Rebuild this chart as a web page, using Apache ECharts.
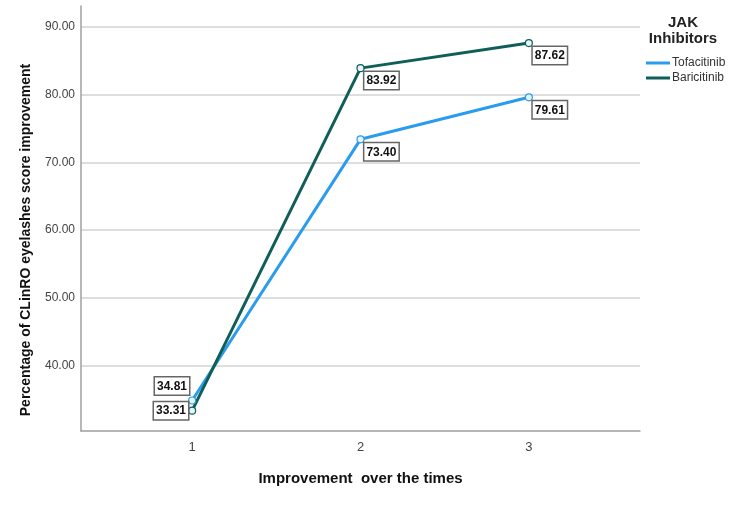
<!DOCTYPE html>
<html>
<head>
<meta charset="utf-8">
<script src="https://cdn.jsdelivr.net/npm/echarts@6/dist/echarts.min.js"></script>
<style>
  html, body { margin: 0; padding: 0; background: #fff; }
  #main { width: 750px; height: 506px; }
</style>
</head>
<body>
<div id="main"></div>
<script>
  // data
  var timePoints = [1, 2, 3];
  var tofacitinib = [34.81, 73.40, 79.61];
  var baricitinib = [33.31, 83.92, 87.62];
  var yTicks = [40, 50, 60, 70, 80, 90];
  var seriesNames = ['Tofacitinib', 'Baricitinib'];
  var seriesColors = ['#2b9cec', '#0f5f58'];

  var font = '"Liberation Sans", Arial, sans-serif';

  function pairs(vals) {
    return vals.map(function (v, i) { return [timePoints[i], v]; });
  }

  function boxLabel(first) {
    // first point sits to the left, the others below-right
    return {
      show: true,
      position: first ? 'left' : [8, 8],
      distance: 0,
      align: first ? 'right' : 'left',
      verticalAlign: first ? 'middle' : 'top',
      formatter: function (p) { return p.value[1].toFixed(2); },
      fontFamily: font,
      fontSize: 12,
      fontWeight: 'bold',
      color: '#111',
      backgroundColor: '#fff',
      borderColor: '#666',
      borderWidth: 1.5,
      padding: [3, 2, 2, 2]
    };
  }

  function makeSeries(name, vals, color, firstShift) {
    var d = pairs(vals).map(function (pt, i) {
      var lab = boxLabel(i === 0);
      if (i === 0 && firstShift) {
        lab.position = [1, -2];
        lab.align = 'right';
        lab.verticalAlign = 'bottom';
      }
      return { value: pt, label: lab };
    });
    return {
      name: name,
      type: 'line',
      data: d,
      symbol: 'circle',
      symbolSize: 7,
      showAllSymbol: true,
      itemStyle: { color: '#e8f3f8', borderColor: color, borderWidth: 1.2 },
      lineStyle: { color: color, width: 3 },
      emphasis: { disabled: true },
      animation: false
    };
  }

  var myChart = echarts.init(document.getElementById('main'));

  var option = {
    backgroundColor: '#fff',
    grid: { left: 81, right: 110, top: 6, bottom: 75 },
    color: seriesColors,
    legend: {
      orient: 'vertical',
      left: 641,
      top: 52,
      icon: 'rect',
      itemWidth: 24,
      itemHeight: 3,
      itemGap: 3,
      data: seriesNames.map(function (n, i) {
        return { name: n, itemStyle: { color: seriesColors[i], borderWidth: 0 } };
      }),
      textStyle: { fontFamily: font, fontSize: 12, color: '#333', padding: [0, 0, 0, -3] }
    },
    graphic: [
      {
        type: 'text',
        x: 683,
        y: 15,
        style: {
          text: 'JAK\nInhibitors',
          align: 'center',
          fontFamily: font,
          fontSize: 15,
          fontWeight: 'bold',
          lineHeight: 16,
          fill: '#222'
        }
      },
      {
        type: 'text',
        rotation: Math.PI / 2,
        x: 26,
        y: 240,
        style: {
          text: 'Percentage of CLinRO eyelashes score improvement',
          align: 'center',
          verticalAlign: 'middle',
          fontFamily: font,
          fontSize: 14,
          fontWeight: 'bold',
          fill: '#111'
        }
      }
    ],
    xAxis: {
      type: 'value',
      min: 0.34,
      max: 3.66,
      name: 'Improvement  over the times',
      nameLocation: 'middle',
      nameGap: 40,
      nameTextStyle: { fontFamily: font, fontSize: 15, fontWeight: 'bold', color: '#111' },
      axisLine: { show: true, lineStyle: { color: '#a0a0a0', width: 1.5 } },
      axisTick: { show: false, customValues: timePoints },
      axisLabel: { customValues: timePoints, fontFamily: font, fontSize: 13, color: '#444', margin: 10 },
      splitLine: { show: false }
    },
    yAxis: {
      type: 'value',
      min: 30.3,
      max: 93.1,
      axisLine: { show: true, lineStyle: { color: '#a0a0a0', width: 1.5 } },
      axisTick: { show: false, customValues: yTicks },
      axisLabel: {
        customValues: yTicks,
        formatter: function (v) { return v.toFixed(2); },
        fontFamily: font, fontSize: 12, color: '#444', margin: 6
      },
      splitLine: { show: true, lineStyle: { color: '#d3d3d3', width: 1.5 } }
    },
    series: [
      makeSeries(seriesNames[0], tofacitinib, seriesColors[0], true),
      makeSeries(seriesNames[1], baricitinib, seriesColors[1], false)
    ]
  };

  myChart.setOption(option);
</script>
</body>
</html>
